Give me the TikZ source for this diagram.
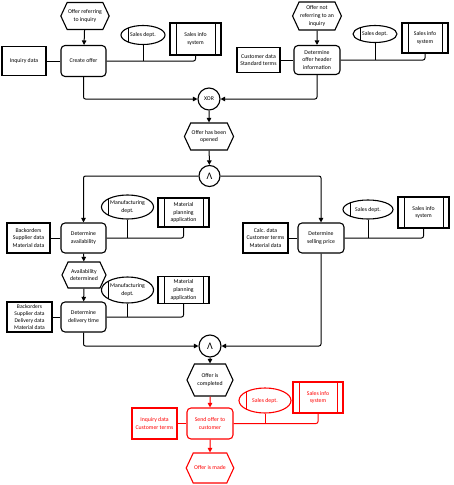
\documentclass[tikz,border=0pt]{standalone}
\usepackage{fontspec}
\setmainfont{Carlito}
\usetikzlibrary{shapes.geometric,shapes.symbols,arrows.meta}
\definecolor{epcred}{RGB}{255,0,0}
\tikzset{
  basenode/.style={font=\fontsize{5.8}{7.6}\selectfont, align=center, inner sep=1pt, line width=1.1pt, fill=white},
  sz/.style 2 args={minimum width=#1pt, minimum height=#2pt},
  fn/.style={basenode, draw, rounded corners=4pt},
  ev/.style={basenode, draw, signal, signal to=west and east, signal pointer angle=130},
  dat/.style={basenode, draw, rectangle},
  org/.style={basenode, draw, ellipse, path picture={\draw[line width=0.9pt] ([xshift=7pt]path picture bounding box.north west) -- ([xshift=7pt]path picture bounding box.south west);}},
  sys/.style={basenode, draw, rectangle, path picture={\draw[line width=0.9pt] ([xshift=6pt]path picture bounding box.north west) -- ([xshift=6pt]path picture bounding box.south west);
     \draw[line width=0.9pt] ([xshift=-6pt]path picture bounding box.north east) -- ([xshift=-6pt]path picture bounding box.south east);}},
  gate/.style={basenode, draw, circle, minimum size=22pt, inner sep=0pt},
  andgate/.style={gate, font=\fontsize{10}{10}\selectfont},
  con/.style={line width=1pt, rounded corners=2pt},
  arr/.style={con, -{Triangle[length=4.5pt,width=4.5pt]}},
  hot/.style={draw=epcred, text=epcred}
}
\begin{document}
\begin{tikzpicture}[x=1pt,y=-1pt]
\useasboundingbox (0,0) rectangle (454,485);

% top left branch
\node[ev, sz={46}{27}] (e1) at (85,16) {Offer referring\\to inquiry};
\node[fn, sz={45}{31}] (f1) at (83.5,61) {Create offer};
\node[dat, sz={44}{29}] (d1) at (24,61) {Inquiry data};
\node[org, sz={44}{19}] (o1) at (143,35) {Sales dept.};
\node[sys, sz={51}{32}] (s1) at (195.5,39) {Sales info\\system};

% top right branch
\node[ev, sz={44}{28}] (e2) at (317,16) {Offer not\\referring to an\\inquiry};
\node[fn, sz={46}{29}] (f2) at (317,60) {Determine\\offer header\\information};
\node[dat, sz={43}{25}] (d2) at (258.5,60) {Customer data\\Standard terms};
\node[org, sz={44}{17}] (o2) at (375,34) {Sales dept.};
\node[sys, sz={46}{30}] (s2) at (425,38) {Sales info\\system};

% merge
\node[gate] (x1) at (209,99) {XOR};
\node[ev, sz={46}{27}] (e3) at (209,136.5) {Offer has been\\opened};
\node[andgate, minimum size=21pt] (a1) at (209.5,176) {Λ};

% availability
\node[fn, sz={45}{30}] (f3) at (83.5,238) {Determine\\availability};
\node[dat, sz={43}{30}] (d3) at (28.5,238) {Backorders\\Supplier data\\Material data};
\node[org, sz={49}{24}] (o3) at (127.5,207) {Manufacturing\\dept.};
\node[sys, sz={51}{29}] (s3) at (183.5,212.5) {Material\\planning\\application};

\node[ev, sz={44}{26}] (e4) at (84,275) {Availability\\determined};

\node[fn, sz={45}{30}] (f5) at (83.5,317) {Determine\\delivery time};
\node[dat, sz={45}{30}, font=\fontsize{5.6}{6.8}\selectfont] (d5) at (29.5,317) {Backorders\\Supplier data\\Delivery data\\Material data};
\node[org, sz={49}{26}] (o5) at (127.5,290) {Manufacturing\\dept.};
\node[sys, sz={51}{27}] (s5) at (183.5,290) {Material\\planning\\application};

% selling price
\node[fn, sz={46}{30}] (f4) at (321,238) {Determine\\selling price};
\node[dat, sz={45}{30}] (d4) at (265.5,238) {Calc. data\\Customer terms\\Material data};
\node[org, sz={50}{19}] (o4) at (368,209.5) {Sales dept.};
\node[sys, sz={51}{31}] (s4) at (423.5,212.5) {Sales info\\system};

% final
\node[andgate] (a2) at (210,346) {Λ};
\node[ev, sz={46}{32}] (e5) at (210,380) {Offer is\\completed};
\node[fn, hot, sz={46}{31}] (f6) at (210,423.5) {Send offer to\\customer};
\node[dat, hot, sz={45}{31}] (d6) at (154.5,423.5) {Inquiry data\\Customer terms};
\node[org, hot, sz={52}{25}] (o6) at (265,400.5) {Sales dept.};
\node[sys, hot, sz={50}{31}] (s6) at (318,397.5) {Sales info\\system};
\node[ev, hot, sz={46}{30}] (e6) at (210,468) {Offer is made};

% connectors
\draw[arr] (e1) -- (f1);
\draw[con] (d1) -- (f1);
\draw[con] (f1.east) -| (s1.south);
\draw[con] (o1.south) -- (o1.south |- f1.east);
\draw[arr] (e2) -- (f2);
\draw[con] (d2) -- (f2);
\draw[con] (f2.east) -| (s2.south);
\draw[con] (o2.south) -- (o2.south |- f2.east);
\draw[arr] (f1.south) |- (x1.west);
\draw[arr] (f2.south) |- (x1.east);
\draw[arr] (x1) -- (e3);
\draw[arr] (e3) -- (a1);
\draw[arr] (a1.west) -| (f3.north);
\draw[arr] (a1.east) -| (f4.north);

\draw[con] (d3) -- (f3);
\draw[con] (f3.east) -| (s3.south);
\draw[con] (o3.south) -- (o3.south |- f3.east);
\draw[arr] (f3) -- (e4);
\draw[arr] (e4) -- (f5);
\draw[con] (d5) -- (f5);
\draw[con] (f5.east) -| (s5.south);
\draw[con] (o5.south) -- (o5.south |- f5.east);

\draw[con] (d4) -- (f4);
\draw[con] (f4.east) -| (s4.south);
\draw[con] (o4.south) -- (o4.south |- f4.east);

\draw[arr] (f5.south) |- (a2.west);
\draw[arr] (f4.south) |- (a2.east);
\draw[arr] (a2) -- (e5);
\draw[arr, draw=epcred, fill=epcred] (e5) -- (f6);
\draw[con, draw=epcred] (d6) -- (f6);
\draw[con, draw=epcred] (f6.east) -| (s6.south);
\draw[con, draw=epcred] (o6.south) -- (o6.south |- f6.east);
\draw[arr, draw=epcred, fill=epcred] (f6) -- (e6);
\end{tikzpicture}
\end{document}
